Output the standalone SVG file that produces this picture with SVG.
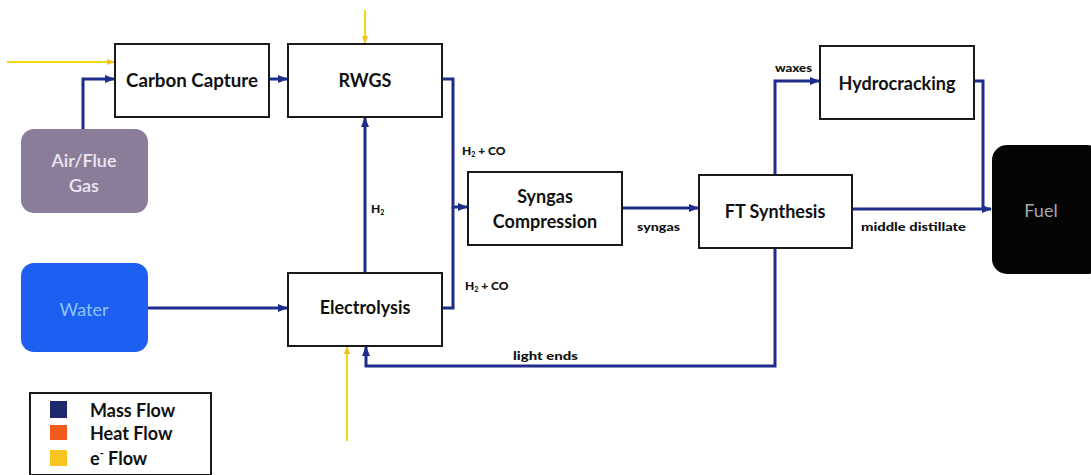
<svg xmlns="http://www.w3.org/2000/svg" width="1091" height="475" viewBox="0 0 1091 475">
<style>
.box{fill:#fff;stroke:#1a1a1a;stroke-width:2}
.lbl{font-family:Lato,"Open Sans","Liberation Sans",sans-serif;font-weight:bold;font-size:18px;fill:#111;text-anchor:middle}
.sm{font-family:Lato,"Open Sans","Liberation Sans",sans-serif;font-weight:900;font-size:12px;fill:#111}
.mass{fill:none;stroke:#1e2d8c;stroke-width:3}
.elec{fill:none;stroke:#f5d80c;stroke-width:2}
.leg{font-family:Lato,"Open Sans","Liberation Sans",sans-serif;font-weight:bold;font-size:18px;fill:#111}
</style>
<defs>
<marker id="am" markerUnits="userSpaceOnUse" markerWidth="10" markerHeight="10" viewBox="0 0 10 10" refX="9" refY="5" orient="auto"><path d="M0,1 L10,5 L0,9 Z" fill="#1e2d8c"/></marker>
<marker id="ay" markerUnits="userSpaceOnUse" markerWidth="8" markerHeight="8" viewBox="0 0 10 10" refX="9" refY="5" orient="auto"><path d="M0,1 L10,5 L0,9 Z" fill="#f2c21a"/></marker>
</defs>
<rect width="1091" height="475" fill="#fff"/>

<g id="connectors">
<path class="mass" d="M83,129 V79 H114" marker-end="url(#am)"/>
<path class="mass" d="M269,79 H287" marker-end="url(#am)"/>
<path class="mass" d="M442,79 H453 V207 H467" marker-end="url(#am)"/>
<path class="mass" d="M442,308 H453 V207"/>
<path class="mass" d="M365,273 V118" marker-end="url(#am)"/>
<path class="mass" d="M148,308 H287" marker-end="url(#am)"/>
<path class="mass" d="M622,208 H698" marker-end="url(#am)"/>
<path class="mass" d="M775,175 V81 H819" marker-end="url(#am)"/>
<path class="mass" d="M974,81 H983 V209"/>
<path class="mass" d="M852,209 H991" marker-end="url(#am)"/>
<path class="mass" d="M775,248 V366 H366 V347" marker-end="url(#am)"/>
<path class="elec" d="M7,62 H114" marker-end="url(#ay)"/>
<path class="elec" d="M365,10 V43" marker-end="url(#ay)"/>
<path class="elec" d="M347,441 V347" marker-end="url(#ay)"/>
<text class="sm" x="371" y="213">H<tspan font-size="7" dy="2">2</tspan></text>
<text class="sm" x="462" y="155">H<tspan font-size="7" dy="2">2</tspan><tspan dy="-2"> + CO</tspan></text>
<text class="sm" x="465" y="290">H<tspan font-size="7" dy="2">2</tspan><tspan dy="-2"> + CO</tspan></text>
<text class="sm" x="637" y="231" textLength="43" lengthAdjust="spacingAndGlyphs">syngas</text>
<text class="sm" x="513" y="360" font-size="13" textLength="65" lengthAdjust="spacingAndGlyphs">light ends</text>
<text class="sm" x="775" y="72" font-size="11" textLength="37" lengthAdjust="spacingAndGlyphs">waxes</text>
<text class="sm" x="861" y="231" font-size="13" textLength="105" lengthAdjust="spacingAndGlyphs">middle distillate</text>
</g>

<g id="air">
<rect x="21" y="129" width="127" height="84" rx="13" fill="#8b7d99"/>
<text class="lbl" x="84" y="167" style="fill:#ece8f2;font-weight:600" font-size="17">Air/Flue</text>
<text class="lbl" x="84" y="192" style="fill:#ece8f2;font-weight:600" font-size="17">Gas</text>
</g>
<g id="water">
<rect x="21" y="263" width="127" height="89" rx="13" fill="#1d5ff0"/>
<text class="lbl" x="84" y="316" style="fill:#8cc4ff;font-weight:normal" font-size="17">Water</text>
</g>
<g id="carbon-capture">
<rect class="box" x="115" y="44" width="154" height="73"/>
<text class="lbl" x="192" y="87" textLength="132" lengthAdjust="spacingAndGlyphs">Carbon Capture</text>
</g>
<g id="rwgs">
<rect class="box" x="288" y="44" width="154" height="73"/>
<text class="lbl" x="365" y="87">RWGS</text>
</g>
<g id="electrolysis">
<rect class="box" x="288" y="273" width="154" height="73"/>
<text class="lbl" x="365" y="314">Electrolysis</text>
</g>
<g id="syngas-compression">
<rect class="box" x="468" y="172" width="154" height="73"/>
<text class="lbl" x="545" y="203">Syngas</text>
<text class="lbl" x="545" y="228">Compression</text>
</g>
<g id="ft-synthesis">
<rect class="box" x="699" y="175" width="153" height="73"/>
<text class="lbl" x="775" y="218">FT Synthesis</text>
</g>
<g id="hydrocracking">
<rect class="box" x="820" y="46" width="154" height="73"/>
<text class="lbl" x="897" y="90">Hydrocracking</text>
</g>
<g id="fuel">
<rect x="992" y="145" width="110" height="129" rx="15" fill="#050505"/>
<text class="lbl" x="1041" y="217" style="fill:#a8a8a8;font-weight:normal" font-size="17">Fuel</text>
</g>

<g id="legend">
<rect x="30" y="393" width="181" height="82" fill="#fff" stroke="#1a1a1a" stroke-width="2"/>
<rect x="50" y="401" width="17" height="17" fill="#1e2a6e"/>
<rect x="50" y="425" width="17" height="15" fill="#f25a1c"/>
<rect x="50" y="450" width="17" height="16" fill="#f7c51e"/>
<text class="leg" x="90" y="417">Mass Flow</text>
<text class="leg" x="90" y="440">Heat Flow</text>
<text class="leg" x="90" y="465">e<tspan font-size="11" dy="-8">-</tspan><tspan dy="8"> Flow</tspan></text>
</g>
</svg>
